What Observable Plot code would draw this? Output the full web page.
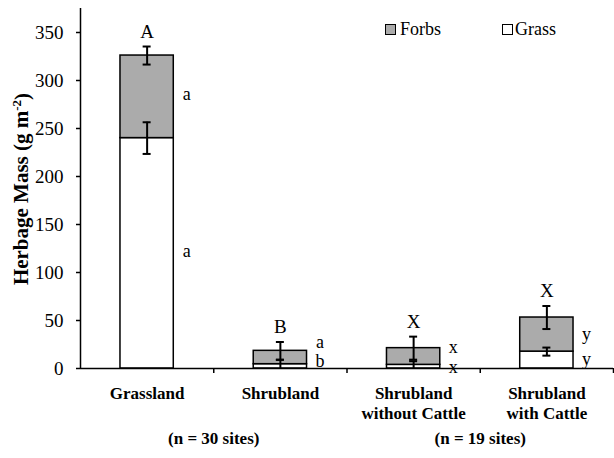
<!DOCTYPE html>
<html>
<head>
<meta charset="utf-8">
<script src="https://cdn.jsdelivr.net/npm/d3@7"></script>
<script src="https://cdn.jsdelivr.net/npm/@observablehq/plot@0.6"></script>
<style>
  html, body { margin: 0; padding: 0; background: white; }
  #wrap { position: relative; width: 614px; height: 458px; font-family: "Liberation Serif", Tinos, "Times New Roman", Times, "DejaVu Serif"; }
  #wrap svg, #wrap svg text { font-family: "Liberation Serif", Tinos, "Times New Roman", Times, "DejaVu Serif" !important; }
  .leg { position: absolute; font-size: 18px; line-height: 18px; color: black; }
  .sw { position: absolute; width: 9px; height: 9px; border: 1.5px solid black; }
</style>
</head>
<body>
<div id="wrap"></div>
<script>
// ---- data ----
const categories = ["Grassland", "Shrubland", "Shrubland\nwithout Cattle", "Shrubland\nwith Cattle"];
const grass   = [240, 4.5, 3.8, 17.6];
const forbs   = [86, 13.9, 17.4, 35.5];
const grassSE = [16.5, 4.5, 3.8, 4.2];
const forbsSE = [9.4, 9.2, 12, 12];
const groupLetters = ["A", "B", "X", "X"];
const forbsLetters = ["a", "a", "x", "y"];
const grassLetters = ["a", "b", "x", "y"];
const forbsLetterAt = [286, 27, 22, 36];
const grassLetterAt = [122, 7.5, 1.5, 10];
const groupNames = ["(n = 30 sites)", "(n = 19 sites)"];
const groupFirst = [0, 2];
const groupLast = [1, 3];
const yTicks = [0, 50, 100, 150, 200, 250, 300, 350];
const seriesNames = ["Forbs", "Grass"];
const seriesColors = ["#ababab", "#ffffff"];

const rows = categories.map((c, i) => ({
  i, c,
  grass: grass[i],
  total: grass[i] + forbs[i],
  gse: grassSE[i],
  fse: forbsSE[i],
  top: groupLetters[i],
  fl: forbsLetters[i],
  gl: grassLetters[i],
  fla: forbsLetterAt[i],
  gla: grassLetterAt[i]
}));
const groups = groupNames.map((g, k) => ({label: g, x: (groupFirst[k] + groupLast[k] + 1) / 2}));

const L = 0.3, R = 0.7, C = 0.5, cap = 0.03;
const sw = 1.5, ew = 2;
const FONT = '"Liberation Serif", Tinos, "Times New Roman", Times, "DejaVu Serif"';

const plot = Plot.plot({
  width: 614, height: 458,
  marginLeft: 80, marginRight: 1, marginTop: 8, marginBottom: 90,
  x: {type: "linear", domain: [0, categories.length], axis: null},
  y: {domain: [0, 375], axis: null},
  style: {fontFamily: FONT, fontSize: "17px", color: "black", background: "white", overflow: "visible"},
  marks: [
    Plot.rect(rows, {x1: d => d.i + L, x2: d => d.i + R, y1: 0, y2: "grass", fill: seriesColors[1], stroke: "black", strokeWidth: sw}),
    Plot.rect(rows, {x1: d => d.i + L, x2: d => d.i + R, y1: "grass", y2: "total", fill: seriesColors[0], stroke: "black", strokeWidth: sw}),
    // grass error bars
    Plot.ruleX(rows, {x: d => d.i + C, y1: d => Math.max(0, d.grass - d.gse), y2: d => d.grass + d.gse, strokeWidth: ew}),
    Plot.ruleY(rows, {y: d => d.grass + d.gse, x1: d => d.i + C - cap, x2: d => d.i + C + cap, strokeWidth: ew}),
    Plot.ruleY(rows.filter(d => d.grass - d.gse > 0), {y: d => d.grass - d.gse, x1: d => d.i + C - cap, x2: d => d.i + C + cap, strokeWidth: ew}),
    // forbs (total) error bars
    Plot.ruleX(rows, {x: d => d.i + C, y1: d => d.total - d.fse, y2: d => d.total + d.fse, strokeWidth: ew}),
    Plot.ruleY(rows, {y: d => d.total + d.fse, x1: d => d.i + C - cap, x2: d => d.i + C + cap, strokeWidth: ew}),
    Plot.ruleY(rows, {y: d => d.total - d.fse, x1: d => d.i + C - cap, x2: d => d.i + C + cap, strokeWidth: ew}),
    // axes lines
    Plot.ruleY([0], {strokeWidth: sw}),
    Plot.ruleX([0], {strokeWidth: sw}),
    Plot.axisY({ticks: yTicks, tickSize: 4, tickPadding: 13, fontSize: 19, label: null, strokeWidth: sw}),
    Plot.axisX({ticks: categories.map((c, i) => i + 1), tickSize: 5, tickFormat: () => "", label: null, strokeWidth: sw}),
    Plot.axisX({ticks: categories.map((c, i) => i + C), tickSize: 0, tickPadding: 17, tickFormat: v => categories[Math.floor(v)], fontWeight: "bold", fontSize: 17, lineHeight: 1.15, label: null}),
    // letters
    Plot.text(rows, {x: d => d.i + C, y: d => d.total + d.fse, text: "top", dy: -15, fontSize: 19}),
    Plot.text(rows, {x: d => d.i + R, y: "fla", text: "fl", dx: 13, fontSize: 18}),
    Plot.text(rows, {x: d => d.i + R, y: "gla", text: "gl", dx: 13, fontSize: 18}),
    // group sizes
    Plot.text(groups, {x: "x", frameAnchor: "bottom", dy: 75, text: "label", fontWeight: "bold", fontSize: 17})
  ]
});

const wrap = document.getElementById("wrap");
wrap.appendChild(plot);

// y-axis title with superscript
const svg = d3.select(plot);
const t = svg.append("text")
  .attr("transform", "translate(21,189) rotate(-90)")
  .attr("text-anchor", "middle")
  .attr("dy", "0.35em")
  .attr("font-weight", "bold")
  .attr("font-size", 21)
  .attr("fill", "black");
t.append("tspan").text("Herbage Mass (g m");
t.append("tspan").attr("font-size", 13).attr("dy", "-0.6em").text("-2");
t.append("tspan").attr("dy", "0.4em").text(")");

// legend
const legPos = [{sx: 385, tx: 400}, {sx: 502, tx: 515}];
seriesNames.forEach((n, k) => {
  const s = document.createElement("div");
  s.className = "sw";
  s.style.left = legPos[k].sx + "px";
  s.style.top = "24px";
  s.style.background = seriesColors[k];
  wrap.appendChild(s);
  const l = document.createElement("div");
  l.className = "leg";
  l.style.left = legPos[k].tx + "px";
  l.style.top = "20px";
  l.textContent = n;
  wrap.appendChild(l);
});
</script>
</body>
</html>
